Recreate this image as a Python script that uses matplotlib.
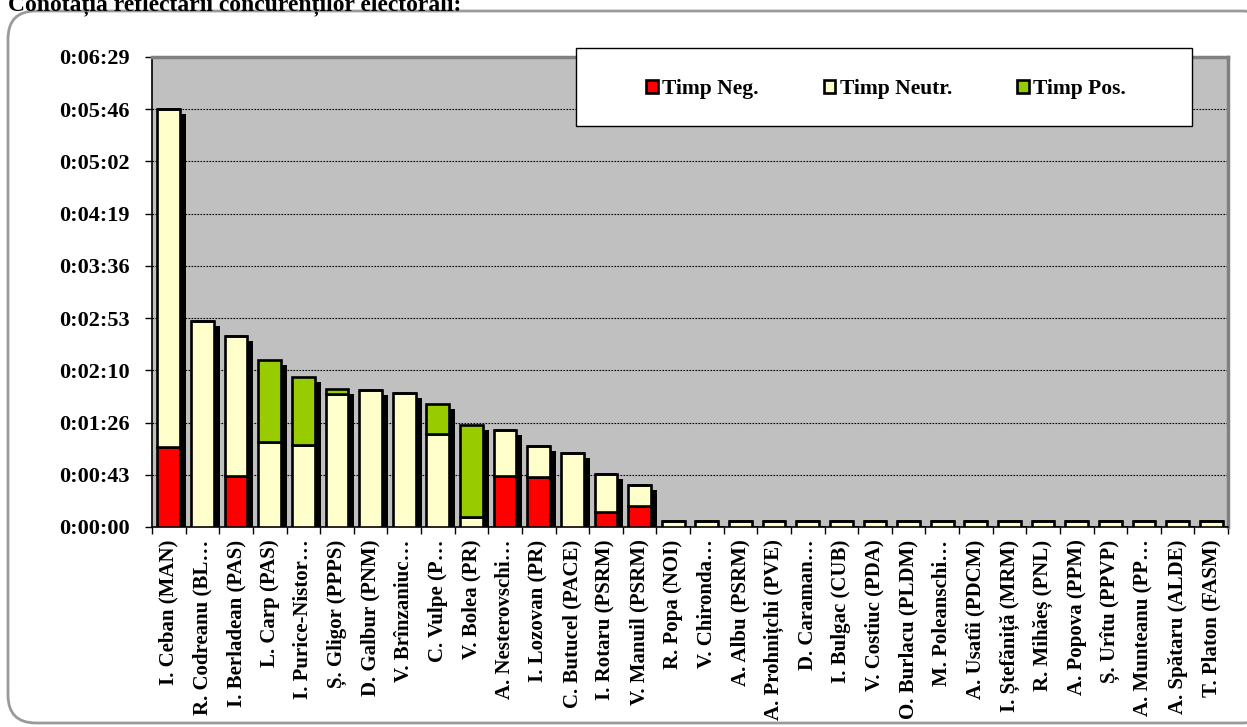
import numpy as np
import matplotlib
matplotlib.use("Agg")
import matplotlib.pyplot as plt
import matplotlib.transforms as mtransforms
from matplotlib.patches import FancyBboxPatch, Rectangle
from matplotlib.ticker import MultipleLocator, FuncFormatter, FixedLocator

plt.rcParams['font.family'] = ['Liberation Serif', 'DejaVu Serif']
plt.rcParams['font.weight'] = 'bold'

# --- Data (seconds) ---
candidates = [
    "I. Ceban (MAN)", "R. Codreanu (BL…", "I. Berladean (PAS)", "L. Carp (PAS)",
    "I. Purice-Nistor…", "Ș. Gligor (PPPS)", "D. Galbur (PNM)", "V. Brînzaniuc…",
    "C. Vulpe (P…", "V. Bolea (PR)", "A. Nesterovschi…", "I. Lozovan (PR)",
    "C. Butucel (PACE)", "I. Rotaru (PSRM)", "V. Manuil (PSRM)", "R. Popa (NOI)",
    "V. Chironda…", "A. Albu (PSRM)", "A. Prohnițchi (PVE)", "D. Caraman…",
    "I. Bulgac (CUB)", "V. Costiuc (PDA)", "O. Burlacu (PLDM)", "M. Poleanschi…",
    "A. Usatîi (PDCM)", "I. Ștefăniță (MRM)", "R. Mihăeș (PNL)", "A. Popova (PPM)",
    "Ș. Urîtu (PPVP)", "A. Munteanu (PP…", "A. Spătaru (ALDE)", "T. Platon (FASM)",
]
timp_neg = [66, 0, 42, 0, 0, 0, 0, 0, 0, 0, 42, 41, 0, 12, 17, 0,
            0, 0, 0, 0, 0, 0, 0, 0, 0, 0, 0, 0, 0, 0, 0, 0]
timp_neutr = [280, 170, 116, 70, 68, 110, 113, 111, 77, 8, 38, 26, 61, 32, 18, 5,
              5, 5, 5, 5, 5, 5, 5, 5, 5, 5, 5, 5, 5, 5, 5, 5]
timp_pos = [0, 0, 0, 68, 56, 4, 0, 0, 25, 76, 0, 0, 0, 0, 0, 0,
            0, 0, 0, 0, 0, 0, 0, 0, 0, 0, 0, 0, 0, 0, 0, 0]
series_labels = ["Timp Neg.", "Timp Neutr.", "Timp Pos."]
colors = ["#FF0000", "#FFFFCC", "#99CC00"]

W, H = 1247, 727
fig = plt.figure(figsize=(W / 100, H / 100), dpi=100)
ident = mtransforms.IdentityTransform()

# outer rounded frame
fig.patches.append(FancyBboxPatch((8, 4), 1262, 712, boxstyle="round,pad=0,rounding_size=28",
                                  transform=ident, fc="white", ec="#9a9a9a", lw=2, zorder=-1))

fig.text(8 / W, 1 - 10 / H, "Conotația reflectării concurenților electorali:",
         fontsize=17, ha="left", va="baseline")

ax = fig.add_axes([152 / W, 1 - 527 / H, (1228 - 152) / W, (527 - 57) / H])
ax.set_facecolor("#C0C0C0")

x = np.arange(len(candidates))
neg = np.array(timp_neg)
neut = np.array(timp_neutr)
pos = np.array(timp_pos)
total = neg + neut + pos
width = 0.68

# shadow behind each stacked bar
shadow_tr = ax.transData + mtransforms.ScaledTranslation(6 / 100, -5 / 100, fig.dpi_scale_trans)
ax.bar(x, total, width, color="black", zorder=1, transform=shadow_tr)

b1 = ax.bar(x, neg, width, color=colors[0], edgecolor="black", lw=1.9, zorder=3)
b2 = ax.bar(x, neut, width, bottom=neg, color=colors[1], edgecolor="black", lw=1.9, zorder=3)
b3 = ax.bar(x, pos, width, bottom=neg + neut, color=colors[2], edgecolor="black", lw=1.9, zorder=3)

ax.set_xlim(-0.5, len(candidates) - 0.5)
ax.set_ylim(0, 388.8)

def hms(v, p):
    s = int(round(v))
    return f"{s // 3600}:{(s % 3600) // 60:02d}:{s % 60:02d}"

ax.yaxis.set_major_locator(MultipleLocator(43.2))
ax.yaxis.set_major_formatter(FuncFormatter(hms))
ax.tick_params(axis="y", length=5, width=1, pad=11, labelsize=16, direction="out")
ax.yaxis.grid(True, color="black", ls=(0, (1.5, 1.2)), lw=0.8)
ax.set_axisbelow(True)

ax.set_xticks(x)
ax.set_xticklabels(candidates, rotation=90, fontsize=15, va="top", ha="center")
ax.xaxis.set_minor_locator(FixedLocator(np.arange(len(candidates) + 1) - 0.5))
ax.tick_params(axis="x", which="major", length=0, pad=9)
ax.tick_params(axis="x", which="minor", length=5, width=1, direction="out")

for side in ["left", "bottom"]:
    ax.spines[side].set_color("black")
    ax.spines[side].set_linewidth(1.2)
for side in ["top", "right"]:
    ax.spines[side].set_color("#808080")
    ax.spines[side].set_linewidth(2.5)

# legend box
fig.patches.append(Rectangle((576, H - 126), 616, 78, transform=ident,
                             fc="white", ec="black", lw=1, zorder=2))
fig.legend([b1, b2, b3], series_labels, loc="center", bbox_to_anchor=(886 / W, 1 - 89 / H),
           ncol=3, frameon=False, fontsize=15.5, handlelength=0.55, handleheight=0.55,
           handletextpad=0.2, columnspacing=3.0)

fig.savefig("out.png", dpi=100)
